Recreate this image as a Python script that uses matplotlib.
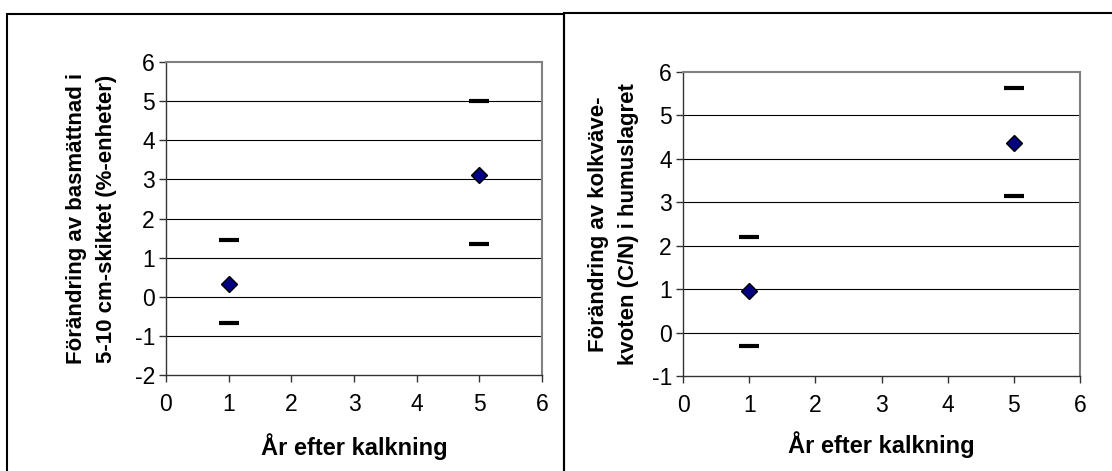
import matplotlib
matplotlib.use("Agg")
import matplotlib.pyplot as plt
from matplotlib.patches import Rectangle

plt.rcParams['font.family'] = ['Liberation Sans', 'DejaVu Sans']
plt.rcParams['axes.unicode_minus'] = False

# Data
years = [1, 5]
bas_mean = [0.33, 3.10]
bas_upper = [1.45, 5.0]
bas_lower = [-0.67, 1.35]

cn_mean = [0.95, 4.37]
cn_upper = [2.21, 5.63]
cn_lower = [-0.31, 3.15]

xlabel = "År efter kalkning"
ylabel_left = "Förändring av basmättnad i\n5-10 cm-skiktet (%-enheter)"
ylabel_right = "Förändring av kolkväve-\nkvoten (C/N) i humuslagret"

W, H = 1112, 471
fig = plt.figure(figsize=(W / 100, H / 100), dpi=100)

# Panel frames
fig.patches.append(Rectangle((7 / W, -0.02), (564 - 7) / W, 1 - 14 / H + 0.02,
                             transform=fig.transFigure, fill=False,
                             edgecolor='black', linewidth=1.5))
fig.patches.append(Rectangle((564 / W, -0.02), (W + 5 - 564) / W, 1 - 13 / H + 0.02,
                             transform=fig.transFigure, fill=False,
                             edgecolor='black', linewidth=1.5))


def make_ax(rect, ymin, ymax, mean, upper, lower, ylabel, ylab_x, xlabpad):
    ax = fig.add_axes(rect)
    ax.set_xlim(0, 6)
    ax.set_ylim(ymin, ymax)
    ax.set_xticks(range(0, 7))
    ax.set_yticks(range(ymin, ymax + 1))
    for y in range(ymin + 1, ymax):
        ax.axhline(y, color='black', linewidth=0.8, zorder=1)
    for s in ['top', 'right']:
        ax.spines[s].set_color('#808080')
        ax.spines[s].set_linewidth(1.5)
    for s in ['left', 'bottom']:
        ax.spines[s].set_color('#333333')
        ax.spines[s].set_linewidth(1.0)
    ax.tick_params(axis='both', direction='out', length=5, width=1,
                   color='#333333', labelsize=16.5)
    ax.tick_params(axis='x', pad=8)
    ax.tick_params(axis='y', pad=3)
    ax.plot(years, upper, linestyle='none', marker='_', markersize=14,
            markeredgewidth=3, color='black', zorder=3)
    ax.plot(years, lower, linestyle='none', marker='_', markersize=14,
            markeredgewidth=3, color='black', zorder=3)
    ax.plot(years, mean, linestyle='none', marker='D', markersize=8,
            markerfacecolor='#000080', markeredgecolor='black',
            markeredgewidth=1, zorder=4)
    ax.set_xlabel(xlabel, fontsize=17, fontweight='bold', labelpad=xlabpad)
    ax.set_ylabel(ylabel, fontsize=16, fontweight='bold', linespacing=1.55)
    ax.yaxis.set_label_coords(ylab_x, 0.5)
    return ax


make_ax([166 / W, (H - 375) / H, 376 / W, 313 / H], -2, 6,
        bas_mean, bas_upper, bas_lower, ylabel_left, -0.13, 12)
make_ax([683 / W, (H - 376) / H, 397 / W, 304 / H], -1, 6,
        cn_mean, cn_upper, cn_lower, ylabel_right, -0.112, 10)

fig.savefig("out.png", dpi=100)
